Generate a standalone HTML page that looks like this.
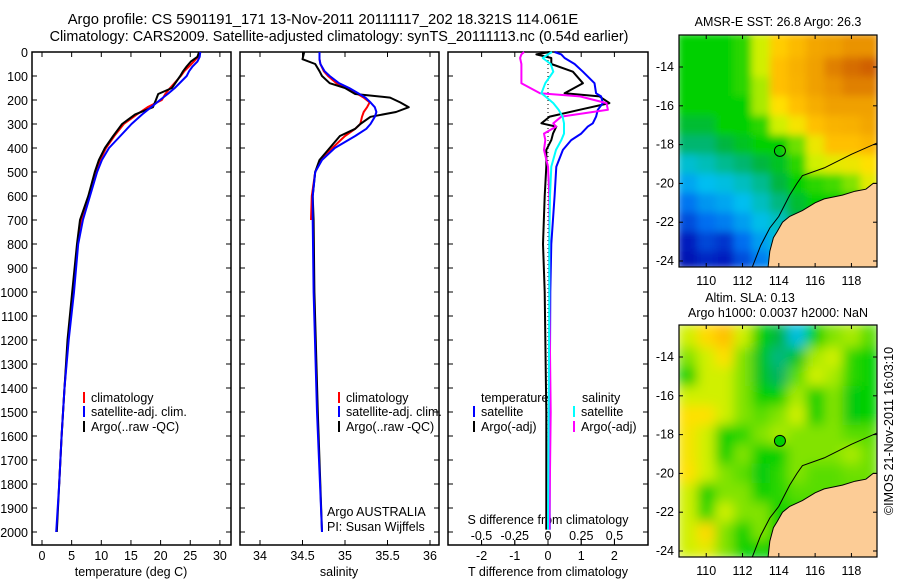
<!DOCTYPE html>
<html><head><meta charset="utf-8"><style>
html,body{margin:0;padding:0;background:#fff;}
svg{display:block;font-family:"Liberation Sans",sans-serif;}
</style></head><body>
<svg id="fig" width="900" height="580" viewBox="0 0 900 580">
<defs>
<filter id="blurSST" x="0" y="0" width="1" height="1"><feGaussianBlur stdDeviation="4" edgeMode="duplicate"/></filter>
<filter id="blurSLA" x="0" y="0" width="1" height="1"><feGaussianBlur stdDeviation="6" edgeMode="duplicate"/></filter>
</defs>
</svg>
<script>
// ---------- DATA ----------
const tDepths = [0,20,40,60,80,100,150,175,200,230,260,300,350,400,450,500,600,700,800,1000,1200,1400,1600,1800,2000];
const tClim   = [26.6,26.3,25.6,24.8,24.0,23.4,21.6,20.8,20.2,17.8,16.0,13.8,12.2,10.8,9.8,9.0,7.9,6.6,6.0,5.2,4.4,3.8,3.3,2.9,null];
const tSat    = [26.7,26.6,26.2,25.4,24.8,24.4,22.4,21.2,19.9,18.4,16.9,15.1,13.2,11.3,10.1,9.3,8.1,6.9,6.1,5.4,4.5,3.8,3.3,2.9,2.4];
const tArgo   = [26.5,26.2,25.1,24.4,23.8,23.3,21.9,19.6,19.2,18.7,15.7,13.5,12.0,10.6,9.6,8.9,7.8,6.4,5.9,5.1,4.3,3.8,3.3,2.9,2.5];

const sDepths = [0,30,50,80,100,130,150,175,190,210,230,250,270,300,320,350,400,450,500,600,700,1000,1500,2000];
const sClim   = [34.7,34.7,34.71,34.75,34.8,34.9,35.02,35.15,35.22,35.29,35.26,35.22,35.2,35.18,35.12,35.0,34.85,34.72,34.65,34.61,34.6,null,null,null];
const sSat    = [34.7,34.7,34.71,34.76,34.82,34.93,35.05,35.17,35.24,35.3,35.35,35.37,35.35,35.3,35.25,35.12,34.88,34.73,34.65,34.62,34.62,34.63,34.67,34.73];
const sArgo   = [34.52,34.5,34.65,34.7,34.73,34.82,35.0,35.12,35.53,35.65,35.75,35.6,35.3,35.18,35.12,34.94,34.82,34.7,34.65,34.62,34.63,34.64,34.68,34.73];

const dDepths = [0,10,25,50,82,130,172,185,213,241,269,297,311,340,367,408,478,600,800,1000,1500,1990];
const dtSat   = [0.2,0.4,0.5,0.8,1.05,1.4,1.45,1.6,1.65,1.5,1.45,1.35,1.2,1.0,0.7,0.45,0.25,0.2,0.1,0.07,0.05,0.05];
const dtArgo  = [0.05,-0.35,0.1,0.1,0.75,1.05,0.5,1.55,1.85,0.95,0.05,-0.2,0.25,0.15,0.1,-0.05,-0.05,-0.1,-0.15,-0.1,-0.05,-0.05];
const dsSat   = [0.03,0.0,-0.04,0.02,0.04,-0.02,-0.05,-0.02,0.04,0.08,0.11,0.12,0.12,0.12,0.1,0.06,0.025,0.015,0.01,0.01,0.005,0.0];
const dsArgo  = [-0.18,-0.2,-0.21,-0.2,-0.2,-0.2,-0.06,0.24,0.44,0.45,0.1,0.04,0.06,-0.03,-0.02,-0.03,0.0,0.01,0.01,0.01,0.02,0.01];

const depthTicks = [0,100,200,300,400,500,600,700,800,900,1000,1100,1200,1300,1400,1500,1600,1700,1800,1900,2000];
const tempTicks = [0,5,10,15,20,25,30];
const salTicks = [34,34.5,35,35.5,36];
const tdTicks = [-2,-1,0,1,2];
const sdTicks = [-0.5,-0.25,0,0.25,0.5];
const sdTickLabels = ["-0.5","-0.25","0","0.25","0.5"];

const mapLons = [109,110,111,112,113,114,115,116,117,118,119];
const mapLats = [13,14,15,16,17,18,19,20,21,22,23,24];
const lonTicks = [110,112,114,116,118];
const latTicks = [14,16,18,20,22,24];
const sstGrid = [
 [5,5,5,5.2,6,6.8,7.2,7.8,8,8.2,8.2],
 [5,5,5,5.2,6,7,7.5,8,8.5,8.8,9],
 [5,5,5,5.2,5.8,7,7.4,8,8.2,8.5,8.5],
 [5,5,5,5,5.8,6.5,7,7.6,8,8,8],
 [4.7,4.7,5,5,5.2,6,6.4,7,7.4,7.5,7.8],
 [4.3,4.3,4.6,4.8,5,5,5.5,6.3,7,7,7.3],
 [3.4,3.7,4.1,4.3,4.6,4.8,5.2,6,6.2,6.3,6.5],
 [2.7,3,3.2,3.6,4.1,4.6,5,5.2,5.3,5.6,6.2],
 [2.1,2.5,2.7,3,3.6,4.2,4.7,5,5,5,5],
 [1.6,2,2.2,2.6,3.1,3.6,4.5,5,5,5,5],
 [1,1.5,1.3,2,2.6,3.2,4,5,5,5,5],
 [0.8,1.1,1,1.6,2.2,2.8,4,5,5,5,5]
];
const slaGrid = [
 [6,6.6,7,6,5,4.6,3.2,5,5.6,5.8,5.4],
 [5.6,6,6.5,5.6,4.8,4.2,4.8,5.8,6,5.2,5],
 [5,6,6,5.6,4.8,4.4,5.4,6,5.8,5.2,5],
 [6,6,6,5.6,5,5,5.8,5,5.6,4.9,5],
 [6.5,6.5,6,5.6,5.4,5.6,6,5,5.6,4.9,5],
 [6.4,6,5,5.2,5.6,5.8,5.6,5.6,5.6,5.4,5.4],
 [6.4,6,5,5.6,5,5,5.6,5.6,5.6,5.8,5.5],
 [6.5,6,5.6,5.4,4.9,5.2,5.6,5.4,5.4,5.5,5.5],
 [6,5,5.6,5.6,5,5.2,5.4,5.4,5.4,5.4,5.4],
 [6,5.2,6,5.6,5.6,5,5.2,5.2,5.2,5.2,5.2],
 [6,6.6,5.6,5,5.6,5,5.2,5.2,5.2,5.2,5.2],
 [6,6.2,5.6,5,5,5,5.2,5.2,5.2,5.2,5.2]
];
const coastLon = [113.4,113.5,113.7,113.9,114.2,114.6,115.3,116,116.5,117,117.5,118.2,118.8,119.2,119.45];
const coastLat = [24.4,23.5,22.8,22.5,22.0,21.7,21.4,21.0,20.8,20.7,20.6,20.4,20.3,20.0,20.0];
const isoLon = [112.5,113,113.5,114,114.6,115,115.3,116.5,118,119.45];
const isoLat = [24.4,23.2,22.3,21.7,20.6,20.0,19.6,19.2,18.5,17.9];
const argoLon = 114.061, argoLat = 18.321;

// ---------- helpers ----------
const NS = "http://www.w3.org/2000/svg";
const svg = document.getElementById('fig');
function mk(tag, attrs, parent){ const e=document.createElementNS(NS,tag); for(const k in attrs) e.setAttribute(k,attrs[k]); (parent||svg).appendChild(e); return e; }
function txt(s,x,y,anchor,size,parent){ const t=mk('text',{x:x,y:y,'text-anchor':anchor||'middle','font-size':size||12,fill:'#000'},parent); t.textContent=s; return t; }

const PT=52, PB=545;
const yD = d => PT + d*0.24;
const xT = v => 42 + v*5.93;
const xS = v => 260 + (v-34)*85;
const xDT = v => 548 + v*33.2;
const xDS = v => 548 + v*133;

function line(xs, ys, xf, color, w, name){
  let d=''; let pen=false;
  for(let i=0;i<xs.length;i++){
    if(xs[i]===null){pen=false;continue;}
    d += (pen?'L':'M') + xf(xs[i]).toFixed(1)+','+yD(ys[i]).toFixed(1);
    pen=true;
  }
  const p=mk('path',{d:d,fill:'none',stroke:color,'stroke-width':w,'stroke-linejoin':'round'});
  
  
  return p;
}

// titles
let t1=txt('Argo profile: CS 5901191_171 13-Nov-2011 20111117_202 18.321S 114.061E',323,24,'middle',14.8);


let t2=txt('Climatology: CARS2009. Satellite-adjusted climatology: synTS_20111113.nc (0.54d earlier)',339,41,'middle',14.4);



// panels
const panels=[[32,231,'temperature-panel'],[240,439,'salinity-panel'],[448,648,'difference-panel']];
panels.forEach(p=>{
  const r=mk('rect',{x:p[0],y:PT,width:p[1]-p[0],height:PB-PT,fill:'none',stroke:'#000','stroke-width':1.5});
  
  
  depthTicks.forEach(d=>{
    mk('line',{x1:p[0],x2:p[0]+5,y1:yD(d),y2:yD(d),stroke:'#000'});
    mk('line',{x1:p[1]-5,x2:p[1],y1:yD(d),y2:yD(d),stroke:'#000'});
  });
});
depthTicks.forEach(d=>{
  const t=txt(String(d),28,yD(d)+5,'end',12.5);
  
  
});
tempTicks.forEach(v=>{
  mk('line',{x1:xT(v),x2:xT(v),y1:PB,y2:PB-5,stroke:'#000'});
  mk('line',{x1:xT(v),x2:xT(v),y1:PT,y2:PT+5,stroke:'#000'});
  const t=txt(String(v),xT(v),560,'middle',12.5);
  
  
});
salTicks.forEach(v=>{
  mk('line',{x1:xS(v),x2:xS(v),y1:PB,y2:PB-5,stroke:'#000'});
  mk('line',{x1:xS(v),x2:xS(v),y1:PT,y2:PT+5,stroke:'#000'});
  const t=txt(String(v),xS(v),560,'middle',12.5);
  
  
});
tdTicks.forEach(v=>{
  mk('line',{x1:xDT(v),x2:xDT(v),y1:PB,y2:PB-5,stroke:'#000'});
  mk('line',{x1:xDT(v),x2:xDT(v),y1:PT,y2:PT+5,stroke:'#000'});
  const t=txt(String(v),xDT(v),560,'middle',12.5);
  
  
});
sdTicks.forEach((v,i)=>{
  mk('line',{x1:xDS(v),x2:xDS(v),y1:PB,y2:PB-5,stroke:'#000'});
  const t=txt(sdTickLabels[i],xDS(v),540,'middle',12.5);
  
  
});
[['temperature (deg C)',131,'temperature-axis-title'],['salinity',339,'salinity-axis-title'],['T difference from climatology',548,'t-diff-axis-title']].forEach(a=>{
  const t=txt(a[0],a[1],576,'middle',12.5);
  
  
});
let sdt=txt('S difference from climatology',548,524,'middle',12.5);



// zero dotted line
mk('line',{x1:548,x2:548,y1:PT,y2:PB,stroke:'#000','stroke-dasharray':'1,3'});

// series
line(tClim,tDepths,xT,'#ff0000',2,'temp-climatology-line');
line(tArgo,tDepths,xT,'#000000',2,'temp-argo-line');
line(tSat,tDepths,xT,'#0000ff',2,'temp-satellite-line');
line(sClim,sDepths,xS,'#ff0000',2,'sal-climatology-line');
line(sArgo,sDepths,xS,'#000000',2,'sal-argo-line');
line(sSat,sDepths,xS,'#0000ff',2,'sal-satellite-line');
line(dtArgo,dDepths,xDT,'#000000',2,'tdiff-argo-line');
line(dtSat,dDepths,xDT,'#0000ff',2,'tdiff-satellite-line');
line(dsArgo,dDepths,xDS,'#ff00ff',2,'sdiff-argo-line');
line(dsSat,dDepths,xDS,'#00ffff',2,'sdiff-satellite-line');

// legends
function legItem(x,y,color,label,name){
  const g=mk('g',{});
  
  
  mk('rect',{x:x,y:y-10,width:2,height:11,fill:color},g);
  txt(label,x+8,y,'start',12.5,g);
}
legItem(83,402,'#ff0000','climatology','legend-climatology');
legItem(83,416,'#0000ff','satellite-adj. clim.','legend-satellite-adj');
legItem(83,431,'#000000','Argo(..raw -QC)','legend-argo');
legItem(338,402,'#ff0000','climatology','legend-sal-climatology');
legItem(338,416,'#0000ff','satellite-adj. clim.','legend-sal-satellite-adj');
legItem(338,431,'#000000','Argo(..raw -QC)','legend-sal-argo');
let lt=txt('temperature',481,402,'start',12.5);  
let ls=txt('salinity',582,402,'start',12.5);  
legItem(473,416,'#0000ff','satellite','legend-t-satellite');
legItem(473,431,'#000000','Argo(-adj)','legend-t-argo');
legItem(573,416,'#00ffff','satellite','legend-s-satellite');
legItem(573,431,'#ff00ff','Argo(-adj)','legend-s-argo');
let a1=txt('Argo AUSTRALIA',327,516,'start',12.5);  
let a2=txt('PI: Susan Wijffels',327,531,'start',12.5);  

// ---------- maps ----------
const palStops=[[0,[0,0,140]],[1,[0,30,190]],[2,[0,110,240]],[3,[0,190,240]],[4,[0,190,160]],[4.5,[0,176,80]],[5,[0,208,0]],[5.5,[110,224,0]],[6,[208,240,0]],[6.5,[255,224,0]],[7,[255,192,0]],[8,[240,160,0]],[8.5,[224,128,0]],[9,[208,96,0]],[10,[176,32,0]]];
function col(v){
  for(let i=1;i<palStops.length;i++){
    if(v<=palStops[i][0]){
      const a=palStops[i-1],b=palStops[i],f=(v-a[0])/(b[0]-a[0]);
      const c=a[1].map((x,k)=>Math.round(x+(b[1][k]-x)*f));
      return 'rgb('+c.join(',')+')';
    }
  }
  return 'rgb(176,32,0)';
}
const MX0=679,MX1=877;
const mX = lon => MX0 + (lon-108.5)*18.15;
function drawMap(top,grid,name,markerFill,filt){
  const mY = lat => top + (lat-12.35)*19.4;
  const g=mk('g',{});
  
  
  const clip=mk('clipPath',{id:'clip-'+name},g);
  mk('rect',{x:MX0,y:top,width:MX1-MX0,height:232},clip);
  const cg=mk('g',{'clip-path':'url(#clip-'+name+')'},g);
  const fg=mk('g',{filter:'url(#'+filt+')'},cg);
  grid.forEach((row,i)=>row.forEach((v,j)=>{
    const y0 = i===0 ? top-2 : mY(mapLats[i]-0.5);
    const y1 = i===grid.length-1 ? top+234 : mY(mapLats[i]+0.5)+0.6;
    const x0 = j===0 ? MX0-2 : mX(mapLons[j]-0.5);
    const x1 = j===row.length-1 ? MX1+2 : mX(mapLons[j]+0.5)+0.6;
    const c=mk('rect',{x:x0,y:y0,width:x1-x0,height:y1-y0,fill:col(v)},fg);
    
    
  }));
  let d='M'+coastLon.map((lo,i)=>mX(lo).toFixed(1)+','+mY(coastLat[i]).toFixed(1)).join('L')+'L'+mX(119.5)+','+mY(24.5)+'Z';
  const land=mk('path',{d:d,fill:'#fccc96',stroke:'#000','stroke-width':1},cg);
  
  
  let d2='M'+isoLon.map((lo,i)=>mX(lo).toFixed(1)+','+mY(isoLat[i]).toFixed(1)).join('L');
  const iso=mk('path',{d:d2,fill:'none',stroke:'#000','stroke-width':1},cg);
  
  
  const m=mk('circle',{cx:mX(argoLon),cy:mY(argoLat),r:5.5,fill:markerFill,stroke:'#000','stroke-width':1},g);
  
  
  mk('rect',{x:MX0,y:top,width:MX1-MX0,height:232,fill:'none',stroke:'#000','stroke-width':1.2},g);
  lonTicks.forEach(lo=>{
    mk('line',{x1:mX(lo),x2:mX(lo),y1:top,y2:top+4,stroke:'#000'},g);
    mk('line',{x1:mX(lo),x2:mX(lo),y1:top+232,y2:top+228,stroke:'#000'},g);
    txt(String(lo),mX(lo),top+250,'middle',12.5,g);
  });
  latTicks.forEach(la=>{
    mk('line',{x1:MX1-4,x2:MX1,y1:mY(la),y2:mY(la),stroke:'#000'},g);
    mk('line',{x1:MX0,x2:MX0+4,y1:mY(la),y2:mY(la),stroke:'#000'},g);
    txt('-'+la,674,mY(la)+4,'end',12.5,g);
  });
}
drawMap(35,sstGrid,'sst-map','none','blurSST');
drawMap(325,slaGrid,'sla-map','#00d000','blurSLA');
let m1=txt('AMSR-E SST: 26.8 Argo: 26.3',778,26,'middle',12.5);  
let m2=txt('Altim. SLA: 0.13',750,302,'middle',12.5);  
let m3=txt('Argo h1000: 0.0037 h2000: NaN',778,317,'middle',12.5);  
let cp=txt('©IMOS 21-Nov-2011 16:03:10',0,0,'middle',12.5);
cp.setAttribute('transform','translate(893,431) rotate(-90)');


</script>
</body></html>
